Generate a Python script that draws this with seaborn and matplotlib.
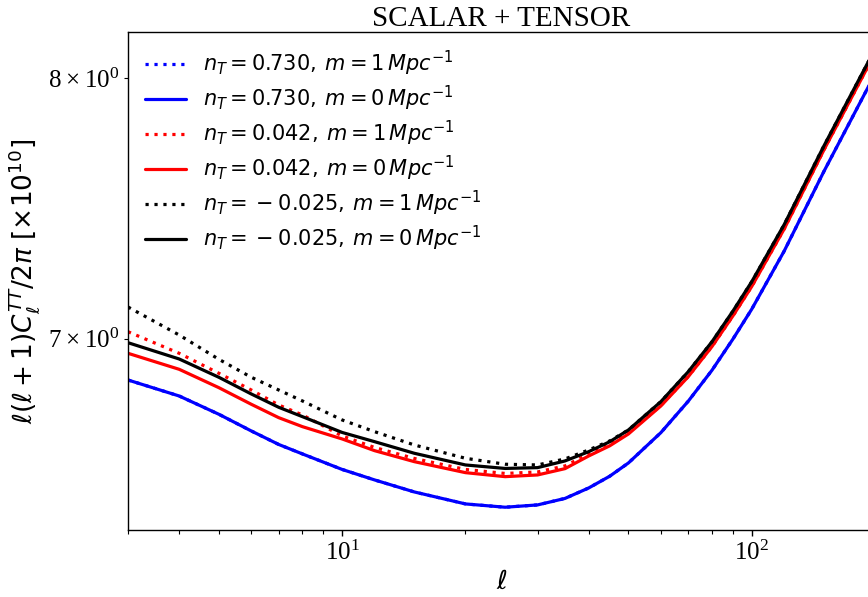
import numpy as np
import pandas as pd
import matplotlib
matplotlib.use("Agg")
import matplotlib.pyplot as plt
import seaborn as sns

# multipoles
ell = [3, 4, 5, 6, 7, 8, 10, 12, 15, 20, 25, 30, 35, 40, 45, 50, 60, 70, 80, 90, 100, 120, 150, 200]

# l(l+1)C_l/2pi [x1e10]
blue_m1 = [6.8536, 6.7977, 6.7344, 6.6771, 6.6311, 6.5990, 6.5468, 6.5118, 6.4719, 6.4323, 6.4214,
           6.4290, 6.4504, 6.4851, 6.5241, 6.5686, 6.6713, 6.7797, 6.8881, 6.9989, 7.1065, 7.3209,
           7.6253, 8.0153]
blue_m0 = [6.8536, 6.7977, 6.7344, 6.6771, 6.6311, 6.5990, 6.5468, 6.5118, 6.4719, 6.4323, 6.4214,
           6.4290, 6.4504, 6.4851, 6.5241, 6.5686, 6.6713, 6.7797, 6.8881, 6.9989, 7.1065, 7.3209,
           7.6253, 8.0153]
red_m1 = [7.0251, 6.9479, 6.8772, 6.8186, 6.7665, 6.7320, 6.6600, 6.6209, 6.5838, 6.5468, 6.5334,
          6.5384, 6.5586, 6.5990, 6.6311, 6.6703, 6.7648, 6.8659, 6.9721, 7.0825, 7.1895, 7.4042,
          7.7096, 8.1019]
red_m0 = [6.9479, 6.8912, 6.8267, 6.7689, 6.7227, 6.6918, 6.6498, 6.6101, 6.5730, 6.5361, 6.5227,
          6.5284, 6.5495, 6.5922, 6.6264, 6.6668, 6.7630, 6.8652, 6.9721, 7.0825, 7.1895, 7.4042,
          7.7096, 8.1019]
black_m1 = [7.1145, 7.0133, 6.9266, 6.8631, 6.8186, 6.7804, 6.7148, 6.6747, 6.6294, 6.5844, 6.5643,
            6.5619, 6.5821, 6.6125, 6.6430, 6.6805, 6.7780, 6.8828, 6.9893, 7.0999, 7.2072, 7.4209,
            7.7254, 8.1185]
black_m0 = [6.9857, 6.9277, 6.8631, 6.8047, 6.7585, 6.7261, 6.6720, 6.6406, 6.6013, 6.5619, 6.5502,
            6.5529, 6.5754, 6.6067, 6.6403, 6.6805, 6.7780, 6.8828, 6.9893, 7.0999, 7.2072, 7.4209,
            7.7254, 8.1185]

labels = [r'$n_T=0.730,\:m=1\,Mpc^{-1}$',
          r'$n_T=0.730,\:m=0\,Mpc^{-1}$',
          r'$n_T=0.042,\:m=1\,Mpc^{-1}$',
          r'$n_T=0.042,\:m=0\,Mpc^{-1}$',
          r'$n_T=\:-\:0.025,\:m=1\,Mpc^{-1}$',
          r'$n_T=\:-\:0.025,\:m=0\,Mpc^{-1}$']
series = [blue_m1, blue_m0, red_m1, red_m0, black_m1, black_m0]
colors = ['blue', 'blue', 'red', 'red', 'black', 'black']
styles = [(0, (1, 1.8)), '-', (0, (1, 1.8)), '-', (0, (1, 1.8)), '-']

sns.set_style('ticks')
plt.rcParams['font.family'] = 'serif'
plt.rcParams['font.serif'] = ['Liberation Serif', 'DejaVu Serif']
plt.rcParams['mathtext.fontset'] = 'dejavusans'
plt.rcParams['text.color'] = 'black'
plt.rcParams['axes.labelcolor'] = 'black'
plt.rcParams['xtick.color'] = 'black'
plt.rcParams['ytick.color'] = 'black'
plt.rcParams['xtick.direction'] = 'out'
plt.rcParams['ytick.direction'] = 'out'

fig = plt.figure(figsize=(8.68, 5.97), dpi=100)
ax = fig.add_axes([128/868, 67/597, (875-128)/868, (530-32)/597])

for vals, lab, c, ls in zip(series, labels, colors, styles):
    df = pd.DataFrame({'ell': ell, 'cl': vals})
    sns.lineplot(data=df, x='ell', y='cl', ax=ax, color=c, linestyle=ls,
                 linewidth=2.3, label=lab, estimator=None, sort=False)

ax.set_xscale('log')
ax.set_yscale('log')
ax.set_xlim(3, 200)
ax.set_ylim(6.347, 8.19)
ax.tick_params(axis='both', which='both', labelsize=18, color='black')
ax.tick_params(which='major', length=4, width=1)
ax.tick_params(which='minor', length=3, width=0.8)
for s in ax.spines.values():
    s.set_color('black')
    s.set_linewidth(1.0)

ax.set_title('SCALAR + TENSOR', fontsize=21, pad=3)
ax.set_xlabel(r'$\ell$', fontsize=19)
ax.set_ylabel(r'$\ell(\ell+1)C_\ell^{TT}/2\pi\ [\times 10^{10}]$', fontsize=19)

ax.legend(loc='upper left', frameon=False, fontsize=15, handlelength=2.0,
          labelspacing=0.28, borderaxespad=0.4)

fig.savefig('out.png', dpi=100)
